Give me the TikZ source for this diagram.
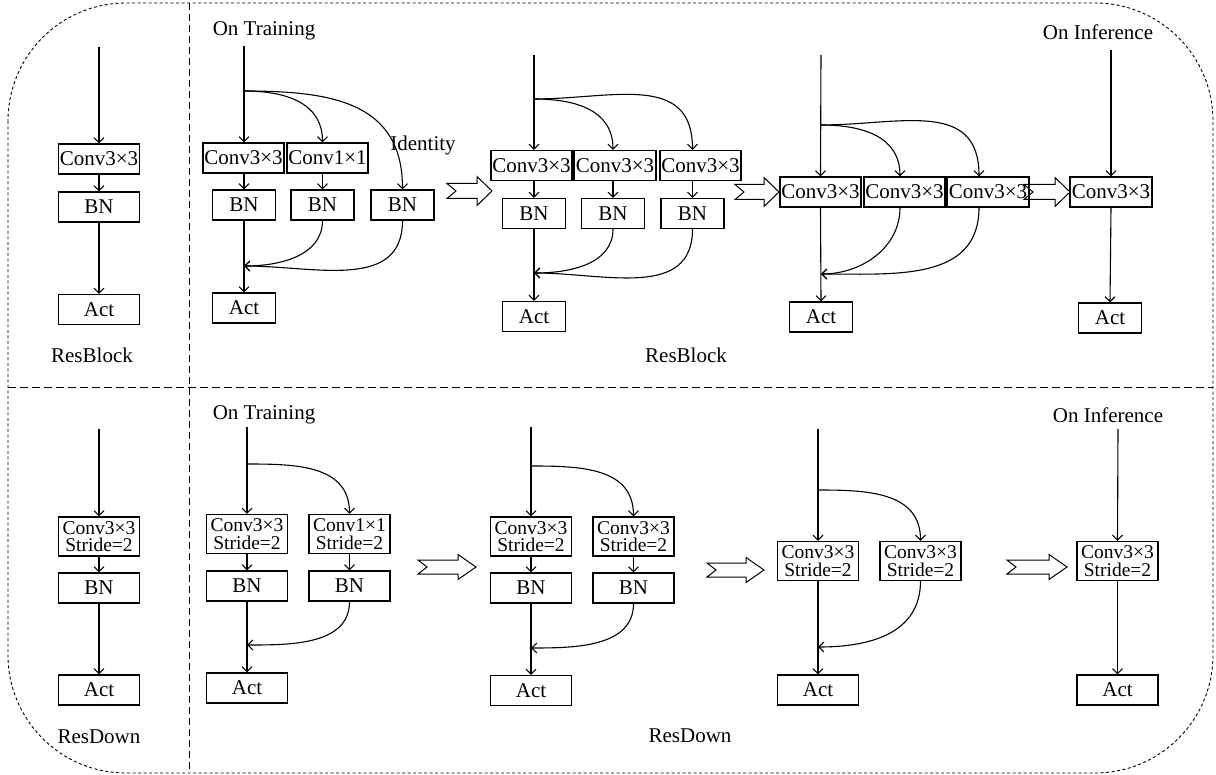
\documentclass[tikz,border=0pt]{standalone}
\usepackage{fontspec}
\setmainfont{Liberation Serif}
\usetikzlibrary{arrows.meta}
\newcommand{\hollowarrow}[6]{%
  \draw[harrow] (#1,#3-#4) -- (#2-#6,#3-#4) -- (#2-#6,#3-#5) -- (#2,#3)
    -- (#2-#6,#3+#5) -- (#2-#6,#3+#4) -- (#1,#3+#4) -- (#1+9,#3) -- cycle;}
\begin{document}
\begin{tikzpicture}[x=1pt,y=-1pt,
  box/.style={draw, line width=1.1pt, inner sep=0pt, minimum height=30pt,
    font=\fontsize{21}{21}\selectfont},
  conv/.style={box, minimum width=81pt},
  bn/.style={box, minimum width=63pt},
  wide/.style={box, minimum width=81pt},
  sbox/.style={box, minimum width=81pt, minimum height=39pt, align=center,
    font=\fontsize{19.5}{17.5}\selectfont},
  lbl/.style={font=\fontsize{21}{21}\selectfont, inner sep=0pt},
  flow/.style={line width=1.1pt, -{Straight Barb[length=5pt,width=10pt]}},
  harrow/.style={draw, line width=1pt},
  frame/.style={line width=0.9pt, dash pattern=on 3pt off 2.5pt},
  divv/.style={line width=0.9pt, dash pattern=on 7pt off 4pt},
  divh/.style={line width=1pt, dash pattern=on 8pt off 4pt},
]
\useasboundingbox (0,0) rectangle (1216,775);

% frame and dividers
\draw[frame, rounded corners=118pt] (8,3) rectangle (1213,773);
\coordinate (vt) at (189,3);
\coordinate (vb) at (189,773);
\coordinate (hl) at (8,388);
\coordinate (hr) at (1213,388);
\draw[divv] (vt) -- (vb);
\draw[divh] (hl) -- (hr);

% ===================== TOP: ResBlock =====================
% left panel
\coordinate (L1in) at (99,47);
\node[conv] (L1c) at (99,159) {Conv3×3};
\node[wide] (L1b) at (99,207) {BN};
\node[wide] (L1a) at (99,309.5) {Act};
\node[lbl] (L1l) at (92,355) {ResBlock};
\draw[flow] (L1in) -- (L1c.north);
\draw[flow] (L1c) -- (L1b);
\draw[flow] (L1b) -- (L1a);

% stage 1 (training)
\node[lbl] (T1lab) at (264,31) {On Training};
\coordinate (T1in) at (244,46);
\coordinate (T1s) at (244,91);
\coordinate (T1m) at (244,266);
\node[conv] (T1c1) at (243.5,158) {Conv3×3};
\node[conv] (T1c2) at (327.5,158) {Conv1×1};
\node[bn] (T1b1) at (244,205) {BN};
\node[bn] (T1b2) at (322.5,205) {BN};
\node[bn] (T1b3) at (402.5,205) {BN};
\node[bn] (T1a) at (244,308) {Act};
\node[lbl] (T1id) at (423,145) {Identity};
\draw[flow] (T1in) -- (T1b1 |- T1c1.north);
\draw[flow] (T1s) to[out=0,in=90,looseness=1.1] (T1b2 |- T1c2.north);
\draw[flow] (T1s) to[out=0,in=90,looseness=1.2] (T1b3.north);
\draw[flow] (T1b1 |- T1c1.south) -- (T1b1.north);
\draw[flow] (T1b2 |- T1c2.south) -- (T1b2.north);
\draw[flow] (T1b1.south) -- (T1a.north);
\draw[flow] (T1b2.south) to[out=-90,in=0] (T1m);
\draw[flow] (T1b3.south) to[out=-90,in=0,looseness=1.1] (T1m);

\hollowarrow{447}{492}{191}{7.5}{14.5}{15}

% stage 2
\coordinate (T2in) at (534,55);
\coordinate (T2s) at (534,99);
\coordinate (T2m) at (534,273);
\node[conv] (T2c1) at (531.5,165.5) {Conv3×3};
\node[conv, minimum width=82pt] (T2c2) at (615,165.5) {Conv3×3};
\node[conv] (T2c3) at (700.5,165.5) {Conv3×3};
\node[bn] (T2b1) at (534,213.5) {BN};
\node[bn] (T2b2) at (613,213.5) {BN};
\node[bn] (T2b3) at (692.5,213.5) {BN};
\node[bn] (T2a) at (534,316.5) {Act};
\draw[flow] (T2in) -- (T2b1 |- T2c1.north);
\draw[flow] (T2s) to[out=0,in=90,looseness=1.1] (T2b2 |- T2c2.north);
\draw[flow] (T2s) to[out=0,in=90,looseness=1.2] (T2b3 |- T2c3.north);
\draw[flow] (T2b1 |- T2c1.south) -- (T2b1.north);
\draw[flow] (T2b2 |- T2c2.south) -- (T2b2.north);
\draw[flow] (T2b3 |- T2c3.south) -- (T2b3.north);
\draw[flow] (T2b1.south) -- (T2a.north);
\draw[flow] (T2b2.south) to[out=-90,in=0] (T2m);
\draw[flow] (T2b3.south) to[out=-90,in=0,looseness=1.1] (T2m);
\node[lbl] (T2lab) at (686,355) {ResBlock};

\hollowarrow{735}{779}{192}{7.5}{14.5}{15}

% stage 3
\coordinate (T3in) at (821,55);
\coordinate (T3s) at (821,125);
\coordinate (T3m) at (821,274);
\coordinate (T3x2) at (900,0);
\coordinate (T3x3) at (979,0);
\node[conv] (T3c1) at (820.5,192) {Conv3×3};
\node[conv] (T3c2) at (904.5,192) {Conv3×3};
\node[conv, minimum width=82pt] (T3c3) at (988,192) {Conv3×3};
\node[bn] (T3a) at (821,317) {Act};
\draw[flow] (T3in) -- (T3c1.north);
\draw[flow] (T3s) to[out=0,in=90,looseness=1.1] (T3x2 |- T3c2.north);
\draw[flow] (T3s) to[out=0,in=90,looseness=1.2] (T3x3 |- T3c3.north);
\draw[flow] (T3c1.south) -- (T3a.north);
\draw[flow] (T3x2 |- T3c2.south) to[out=-90,in=0] (T3m);
\draw[flow] (T3x3 |- T3c3.south) to[out=-90,in=0,looseness=1.1] (T3m);

\hollowarrow{1024}{1070}{192}{7.5}{14.5}{15}

% inference
\node[lbl] (I1lab) at (1098,32) {On Inference};
\coordinate (I1in) at (1111,50);
\node[conv, minimum width=82pt] (I1c) at (1111,192) {Conv3×3};
\node[bn] (I1a) at (1110,318) {Act};
\draw[flow] (I1in) -- (I1c.north);
\draw[flow] (I1c.south) -- (I1a.north);

% ===================== BOTTOM: ResDown =====================
% left panel
\coordinate (L2in) at (99,429);
\node[sbox] (L2c) at (99,536.5) {Conv3×3\\Stride=2};
\node[wide] (L2b) at (99,588) {BN};
\node[wide] (L2a) at (99,690) {Act};
\node[lbl] (L2l) at (99,737) {ResDown};
\draw[flow] (L2in) -- (L2c.north);
\draw[flow] (L2c) -- (L2b);
\draw[flow] (L2b) -- (L2a);

% stage 1 (training)
\node[lbl] (B1lab) at (264,415) {On Training};
\coordinate (B1in) at (247,427);
\coordinate (B1s) at (247,464);
\coordinate (B1m) at (247,645);
\node[sbox] (B1c1) at (247,534) {Conv3×3\\Stride=2};
\node[sbox] (B1c2) at (349.5,534) {Conv1×1\\Stride=2};
\node[wide] (B1b1) at (247,586) {BN};
\node[wide] (B1b2) at (349.5,586) {BN};
\node[wide] (B1a) at (247,688) {Act};
\draw[flow] (B1in) -- (B1c1.north);
\draw[flow] (B1s) to[out=0,in=90,looseness=1.1] (B1c2.north);
\draw[flow] (B1c1) -- (B1b1);
\draw[flow] (B1c2) -- (B1b2);
\draw[flow] (B1b1.south) -- (B1a.north);
\draw[flow] (B1b2.south) to[out=-90,in=0] (B1m);

\hollowarrow{418}{476}{567}{7}{12.5}{18}

% stage 2
\coordinate (B2in) at (531,427);
\coordinate (B2s) at (531,466);
\coordinate (B2m) at (531,648);
\node[sbox] (B2c1) at (531,536.5) {Conv3×3\\Stride=2};
\node[sbox] (B2c2) at (633.5,536.5) {Conv3×3\\Stride=2};
\node[wide] (B2b1) at (531,588) {BN};
\node[wide] (B2b2) at (633.5,588) {BN};
\node[wide] (B2a) at (531,690.5) {Act};
\node[lbl] (B2lab) at (690,736) {ResDown};
\draw[flow] (B2in) -- (B2c1.north);
\draw[flow] (B2s) to[out=0,in=90,looseness=1.1] (B2c2.north);
\draw[flow] (B2c1) -- (B2b1);
\draw[flow] (B2c2) -- (B2b2);
\draw[flow] (B2b1.south) -- (B2a.north);
\draw[flow] (B2b2.south) to[out=-90,in=0] (B2m);

\hollowarrow{707}{764}{570}{7}{12.5}{18}

% stage 3
\coordinate (B3in) at (818,429);
\coordinate (B3s) at (818,490);
\coordinate (B3m) at (818,647);
\node[sbox] (B3c1) at (818,561) {Conv3×3\\Stride=2};
\node[sbox] (B3c2) at (920.5,561) {Conv3×3\\Stride=2};
\node[wide] (B3a) at (818,690) {Act};
\draw[flow] (B3in) -- (B3c1.north);
\draw[flow] (B3s) to[out=0,in=90,looseness=1.1] (B3c2.north);
\draw[flow] (B3c1.south) -- (B3a.north);
\draw[flow] (B3c2.south) to[out=-90,in=0,looseness=1.1] (B3m);

\hollowarrow{1007}{1067}{567}{7}{12.5}{18}

% inference
\node[lbl] (I2lab) at (1108,415) {On Inference};
\coordinate (I2in) at (1118,429);
\node[sbox] (I2c) at (1117.5,561) {Conv3×3\\Stride=2};
\node[wide] (I2a) at (1117.5,690) {Act};
\draw[flow] (I2in) -- (I2c.north);
\draw[flow] (I2c.south) -- (I2a.north);
\end{tikzpicture}
\end{document}
